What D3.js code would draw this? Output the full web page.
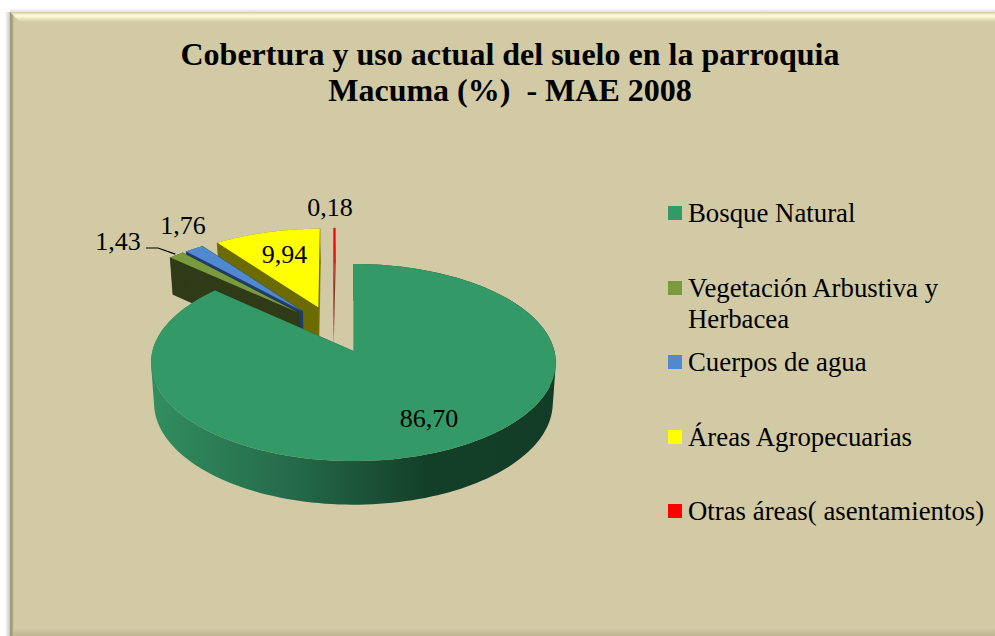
<!DOCTYPE html>
<html>
<head>
<meta charset="utf-8">
<script src="https://cdn.jsdelivr.net/npm/d3@7"></script>
<style>
  html, body { margin: 0; padding: 0; background: #fff; }
  svg { display: block; }
  text { font-family: "Liberation Serif", "Times New Roman", serif; fill: #000; white-space: pre; }
</style>
</head>
<body>
<div class="chart-holder"></div>
<script>
let categories = ['Bosque Natural', 'Vegetación Arbustiva y|Herbacea', 'Cuerpos de agua', 'Áreas Agropecuarias', 'Otras áreas( asentamientos)']
let values = [86.70, 1.43, 1.76, 9.94, 0.18]
let valueLabels = ['86,70', '1,43', '1,76', '9,94', '0,18']
let topColors = ['#339966', '#7b9a3d', '#5089d0', '#ffff00', '#ff0000']
let wallColors = ['#1b5236', '#2f3a17', '#1e3c6c', '#6b6b00', '#8a3a2a']
let titleLines = ['Cobertura y uso actual del suelo en la parroquia', 'Macuma (%)  - MAE 2008']

let width = 995
let height = 636
let panel = { x: 10, y: 12, bevel: 10, edge: 3 }

// 3D pie: circle of radius 1 on a tilted plane, seen in perspective
let view = { x: 353.5, y: 351, bx: 201, az: 97.2, k: 0.1168, depth: 40, shrink: 0.985 }
let explode = 0.255
let centre = { X: -0.104, Z: -0.233 }

// label anchors and legend rows, in page pixels
let labelPos = [[429, 427], [118, 250], [183, 234], [284.5, 263], [330, 216]]
let legendRows = [222, 297, 371, 446, 520]
let legendLineGap = 31

let svg = d3.select('.chart-holder')
    .append('svg')
        .attr('width', width)
        .attr('height', height)

let defs = svg.append('defs')

function gradient(id, x1, y1, x2, y2, stops) {
    let g = defs.append('linearGradient').attr('id', id)
        .attr('gradientUnits', 'userSpaceOnUse')
        .attr('x1', x1).attr('y1', y1).attr('x2', x2).attr('y2', y2)
    stops.forEach(s => g.append('stop').attr('offset', s[0]).attr('stop-color', s[1]).attr('stop-opacity', s[2] === undefined ? 1 : s[2]))
}

gradient('bevelTop', 0, panel.y, 0, panel.y + panel.bevel, [[0, '#cfc8a0'], [0.25, '#f6f1c8'], [0.45, '#fdf9d2'], [1, '#d2caa5']])
gradient('bevelLeft', panel.x, 0, panel.x + panel.edge + 1, 0, [[0, '#99926f'], [0.6, '#aca57f'], [1, '#d2caa5']])
gradient('bevelBottom', 0, height - 8, 0, height, [[0, '#d2caa5'], [1, '#bdb592']])
gradient('shadowLeft', panel.x - 5, 0, panel.x, 0, [[0, '#000', 0], [1, '#000', 0.22]])
gradient('shadowTop', 0, panel.y - 4, 0, panel.y, [[0, '#000', 0], [1, '#000', 0.12]])
gradient('mainWall', 155, 0, 555, 0, [[0, '#318d5e'], [0.35, '#24694a'], [0.68, '#133f28'], [1, '#123c26']])

// panel
let back = svg.append('g').attr('class', 'panel')
back.append('rect').attr('x', panel.x - 5).attr('y', panel.y).attr('width', 5).attr('height', height).attr('fill', 'url(#shadowLeft)')
back.append('rect').attr('x', panel.x).attr('y', panel.y - 4).attr('width', width).attr('height', 4).attr('fill', 'url(#shadowTop)')
back.append('rect').attr('x', panel.x).attr('y', panel.y).attr('width', width).attr('height', height).attr('fill', '#d2caa5')
back.append('path')
    .attr('d', `M${panel.x},${panel.y}L${width},${panel.y}L${width},${panel.y + panel.bevel}L${panel.x + panel.bevel},${panel.y + panel.bevel}Z`)
    .attr('fill', 'url(#bevelTop)')
back.append('path')
    .attr('d', `M${panel.x},${panel.y}L${panel.x + panel.edge + 1},${panel.y + panel.edge + 1}L${panel.x + panel.edge + 1},${height}L${panel.x},${height}Z`)
    .attr('fill', 'url(#bevelLeft)')
back.append('rect').attr('x', panel.x + panel.edge).attr('y', height - 8).attr('width', width).attr('height', 8).attr('fill', 'url(#bevelBottom)')

// title
svg.append('g').attr('class', 'title')
    .selectAll('text')
    .data(titleLines)
    .enter()
    .append('text')
        .attr('x', 510)
        .attr('y', (d, i) => 65 + i * 36)
        .attr('text-anchor', 'middle')
        .attr('font-size', 32)
        .attr('font-weight', 'bold')
        .text(d => d)

let arcs = d3.pie().sort(null)(values)

// every slice gets pushed away from the centre along its middle angle
function sliceOrigin(d) {
    let mid = (d.startAngle + d.endAngle) / 2
    return { X: centre.X + explode * Math.sin(mid), Z: centre.Z - explode * Math.cos(mid) }
}

function project(X, Z, low) {
    let w = 1 / (1 - view.k * Z)
    let x = view.x + view.bx * X * w
    let y = view.y + view.az * Z * w
    if (low) {
        x = view.x + (x - view.x) * view.shrink
        y = y + view.depth * Math.pow(w, 0.7)
    }
    return [x, y]
}

function rimPoint(o, a, low) {
    return project(o.X + Math.sin(a), o.Z - Math.cos(a), low)
}

function rim(o, a0, a1, low) {
    return d3.range(0, 181).map(i => rimPoint(o, a0 + (a1 - a0) * i / 180, low))
}

// same winding for every quad, otherwise front and back ones cancel out where they overlap
function quad(a, b, c, e) {
    let pts = [a, b, c, e]
    if (d3.polygonArea(pts) < 0) pts.reverse()
    return line(pts) + 'Z'
}

let line = d3.line()
let pie = svg.append('g').attr('class', 'pie')

// back slices first, main slice last so it covers their walls
let order = [4, 3, 2, 1, 0]
order.forEach(i => {
    let d = arcs[i]
    let o = sliceOrigin(d)
    let hub = project(o.X, o.Z, false)
    let hubLow = project(o.X, o.Z, true)
    let g = pie.append('g').attr('class', 'slice')
    let wallFill = i === 0 ? 'url(#mainWall)' : wallColors[i]

    // outer wall, one path of small quads so the silhouette stays closed at the sides
    let top = rim(o, d.startAngle, d.endAngle, false)
    let low = rim(o, d.startAngle, d.endAngle, true)
    let wall = top.slice(1).map((p, j) => quad(top[j], p, low[j + 1], low[j])).join('')
    g.append('path').attr('d', wall).attr('fill', wallFill)

    // cut faces
    ;[d.startAngle, d.endAngle].forEach(a => {
        let pts = [hub, rimPoint(o, a, false), rimPoint(o, a, true), hubLow]
        let edged = i === 1 || i === 2 || i === 3
        g.append('path').attr('d', line(pts) + 'Z')
            .attr('fill', i === 0 ? '#1a4a30' : wallColors[i])
            .attr('stroke', edged ? wallColors[i] : 'none')
            .attr('stroke-width', 0.5)
    })

    // top face
    g.append('path').attr('d', line([hub].concat(top)) + 'Z').attr('fill', topColors[i])
})

// value labels
svg.append('g').attr('class', 'labels')
    .selectAll('text')
    .data(valueLabels)
    .enter()
    .append('text')
        .attr('x', (d, i) => labelPos[i][0])
        .attr('y', (d, i) => labelPos[i][1])
        .attr('text-anchor', 'middle')
        .attr('font-size', 26)
        .text(d => d)

// leader for the 1,43 label, ends on the rim of its slice
let vegOrigin = sliceOrigin(arcs[1])
let vegRim = rimPoint(vegOrigin, (arcs[1].startAngle + arcs[1].endAngle) / 2, false)
svg.append('path')
    .attr('d', line([[146, 248], [158, 248], [vegRim[0] - 1, vegRim[1] - 1]]))
    .attr('fill', 'none')
    .attr('stroke', '#000')
    .attr('stroke-width', 1.2)

// legend
let legend = svg.append('g').attr('class', 'legend')
    .selectAll('g')
    .data(categories)
    .enter()
    .append('g')

legend.append('rect')
    .attr('x', 668)
    .attr('y', (d, i) => legendRows[i] - 16)
    .attr('width', 14)
    .attr('height', 14)
    .attr('fill', (d, i) => topColors[i])

legend.each(function (d, i) {
    d.split('|').forEach((part, j) => {
        d3.select(this).append('text')
            .attr('x', 688)
            .attr('y', legendRows[i] + j * legendLineGap)
            .attr('font-size', 26.8)
            .text(part)
    })
})
</script>
</body>
</html>
